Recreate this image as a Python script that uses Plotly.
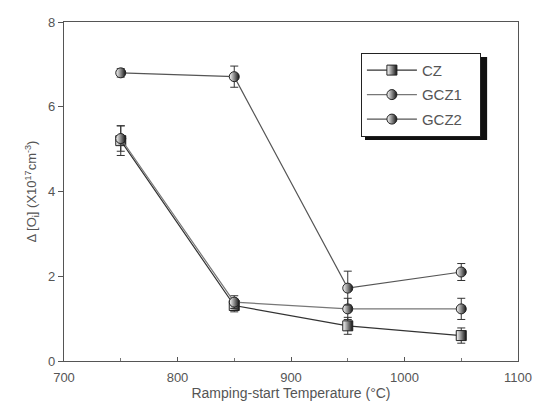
import plotly.graph_objects as go

# Ramping-start temperature (°C)
temps = [750, 850, 950, 1050]

# Δ[Oi] in units of 1e17 cm^-3, with error bar half-widths
cz = [5.2, 1.31, 0.83, 0.60]
cz_err = [0.35, 0.15, 0.2, 0.18]
gcz1 = [5.25, 1.39, 1.23, 1.23]
gcz1_err = [0.3, 0.15, 0.25, 0.25]
gcz2 = [6.80, 6.71, 1.72, 2.10]
gcz2_err = [0.1, 0.25, 0.4, 0.2]

series = [
    ("CZ", cz, cz_err, "#333333", "square"),
    ("GCZ1", gcz1, gcz1_err, "#777777", "circle"),
    ("GCZ2", gcz2, gcz2_err, "#555555", "circle"),
]

fig = go.Figure()
for name, vals, errs, col, sym in series:
    fig.add_trace(go.Scatter(
        x=temps, y=vals, name=name + "&nbsp;&nbsp;&nbsp;", legendgroup=name,
        mode="lines+markers",
        line=dict(color=col, width=1.2),
        marker=dict(symbol=sym, size=10, color="#ffffff",
                    gradient=dict(type="horizontal", color="#111111"),
                    line=dict(color="#222222", width=1)),
        error_y=dict(type="data", array=errs, visible=True,
                     color="#333333", thickness=1, width=4),
    ))

axis_common = dict(showline=True, linecolor="#555555", linewidth=1.2, mirror=True,
                   showgrid=False, zeroline=False, automargin=False,
                   tickfont=dict(family="Liberation Sans", size=13, color="#555555"),
                   tickcolor="#555555")

fig.update_xaxes(range=[700, 1100], dtick=100, ticks="inside", ticklen=4,
                 ticklabelstandoff=4,
                 minor=dict(dtick=50, ticks="inside", ticklen=3, tickcolor="#777777"),
                 title=dict(text="Ramping-start Temperature (°C)", standoff=0,
                            font=dict(family="Liberation Sans", size=14, color="#555555")),
                 **axis_common)
fig.update_yaxes(range=[0, 8], dtick=2, ticks="outside", ticklen=5,
                 title=dict(text="Δ [O<sub>i</sub>] (X10<sup>17</sup>cm<sup>-3</sup>)", standoff=8,
                            font=dict(family="Liberation Sans", size=13, color="#555555")),
                 **axis_common)

# drop shadow behind the legend box
fig.add_shape(type="rect", xref="paper", yref="paper",
              x0=0.663, x1=0.932, y0=0.652, y1=0.897,
              fillcolor="#111111", line=dict(width=0), layer="above")

fig.update_layout(
    width=538, height=406,
    margin=dict(l=64, r=20, t=22, b=45),
    paper_bgcolor="white", plot_bgcolor="white",
    font=dict(family="Liberation Sans", color="#555555"),
    legend=dict(x=0.654, y=0.909, xanchor="left", yanchor="top",
                bgcolor="white", bordercolor="#222222", borderwidth=1,
                font=dict(size=15, color="#555555"), itemwidth=50,
                traceorder="grouped", tracegroupgap=2),
)

fig.write_html("out.html")
